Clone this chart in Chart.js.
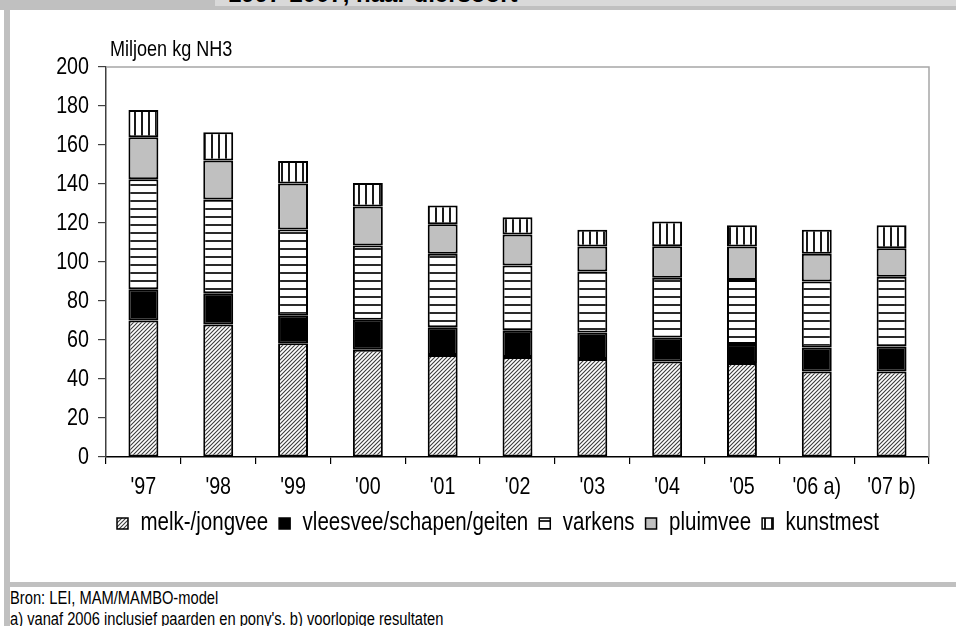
<!DOCTYPE html>
<html>
<head>
<meta charset="utf-8">
<script src="https://cdn.jsdelivr.net/npm/chart.js@4.4.1/dist/chart.umd.min.js"></script>
<style>
  html, body { margin: 0; padding: 0; background: #fff; }
  body { width: 956px; height: 626px; position: relative; overflow: hidden;
         font-family: 'Liberation Sans', Arial, sans-serif; }
  #topband { position: absolute; left: 0; top: 0; width: 956px; height: 10px; background: #c0c0c0; }
  #titleband { position: absolute; left: 215px; top: 0; width: 741px; height: 6px; background: #d9d9d9; overflow: hidden; }
  #titleband span { position: absolute; left: 13px; top: -18px; font: bold 24px/24px 'Liberation Sans', Arial, sans-serif;
                    color: #000; white-space: nowrap; }
  #leftbar { position: absolute; left: 4px; top: 0; width: 6px; height: 626px; background: #c0c0c0; }
  #bottomline { position: absolute; left: 10px; top: 582px; width: 946px; height: 5px; background: #c0c0c0; }
  #wrap { position: absolute; left: 10px; top: 10px; width: 946px; height: 572px; }
  /* condensed text: regular face squeezed horizontally */
  .note { position: absolute; left: 10px; font-size: 17.5px; line-height: 20px; color: #000; white-space: nowrap;
          transform: scaleX(0.84); transform-origin: 0 0; }
</style>
</head>
<body>
<div id="topband"></div>
<div id="titleband"><span>1997-2007, naar diersoort</span></div>
<div id="leftbar"></div>
<div id="wrap"><canvas id="chart" width="946" height="572"></canvas></div>
<div id="bottomline"></div>
<div class="note" style="top:588px">Bron: LEI, MAM/MAMBO-model</div>
<div class="note" style="top:609px">a) vanaf 2006 inclusief paarden en pony's. b) voorlopige resultaten</div>

<script>
// Ammonia emission per animal category, million kg NH3
const categories = ["'97", "'98", "'99", "'00", "'01", "'02", "'03", "'04", "'05", "'06 a)", "'07 b)"];
const melkJongvee = [70, 68, 58.3, 55, 52.3, 51.3, 50.2, 49, 48.2, 43.9, 43.9];
const vleesveeSchapenGeiten = [16, 16, 14.2, 15.4, 14.2, 13.5, 13.7, 12.3, 9.7, 12.3, 12.8];
const varkens = [56.5, 48, 44.2, 38.1, 37.7, 33.4, 31.2, 30.6, 32.9, 33.8, 35.8];
const pluimvee = [21.5, 20, 23.5, 20, 15.1, 15.9, 12.9, 16.2, 17.2, 14.2, 14.6];
const kunstmest = [14, 14.5, 11.6, 12, 9.7, 8.9, 8.6, 12.7, 10.8, 12.4, 11.7];
const seriesNames = ['melk-/jongvee', 'vleesvee/schapen/geiten', 'varkens', 'pluimvee', 'kunstmest'];
const yMin = 0, yMax = 200, yStep = 20;
const axisTitle = 'Miljoen kg NH3';

const FONT = "'Liberation Sans', Arial, sans-serif";
const SQUEEZE = 0.82;

const canvas = document.getElementById('chart');
const ctx = canvas.getContext('2d');

// narrow lettering: every canvas text run is drawn and measured horizontally squeezed
const baseFill = ctx.fillText;
const baseMeasure = ctx.measureText;
ctx.fillText = function (text, x, y) {
  this.save();
  this.translate(x, y);
  this.scale(SQUEEZE, 1);
  baseFill.call(this, text, 0, 0);
  this.restore();
};
ctx.measureText = function (text) {
  const m = baseMeasure.call(this, text);
  return {
    width: m.width * SQUEEZE,
    actualBoundingBoxAscent: m.actualBoundingBoxAscent,
    actualBoundingBoxDescent: m.actualBoundingBoxDescent,
    actualBoundingBoxLeft: m.actualBoundingBoxLeft * SQUEEZE,
    actualBoundingBoxRight: m.actualBoundingBoxRight * SQUEEZE
  };
};

// fill patterns for the stacked segments
function tile(w, h, draw) {
  const c = document.createElement('canvas');
  c.width = w; c.height = h;
  const g = c.getContext('2d');
  g.fillStyle = '#fff';
  g.fillRect(0, 0, w, h);
  draw(g);
  return ctx.createPattern(c, 'repeat');
}
const diagonal = tile(4, 4, g => {
  g.strokeStyle = '#3c3c3c';
  g.lineWidth = 1.1;
  g.beginPath();
  g.moveTo(-1, 5); g.lineTo(5, -1);
  g.moveTo(-1, 1); g.lineTo(1, -1);
  g.moveTo(3, 5); g.lineTo(5, 3);
  g.stroke();
});
const horizontal = tile(8, 8, g => { g.fillStyle = '#2a2a2a'; g.fillRect(0, 6, 8, 2); });
const vertical = tile(7, 8, g => { g.fillStyle = '#1a1a1a'; g.fillRect(5, 0, 2, 8); });

const fills = [diagonal, '#000000', horizontal, '#c0c0c0', vertical];
const values = [melkJongvee, vleesveeSchapenGeiten, varkens, pluimvee, kunstmest];

const datasets = seriesNames.map((name, i) => ({
  label: name,
  data: values[i],
  backgroundColor: fills[i],
  borderColor: '#000',
  borderWidth: 2,
  borderSkipped: false,
  categoryPercentage: 1,
  barPercentage: 0.4
}));

// plot frame (grey top/right edge) and the unit label above the y axis
const framePlugin = {
  id: 'frame',
  beforeDatasetsDraw(chart) {
    const { ctx, chartArea: a } = chart;
    ctx.save();
    ctx.strokeStyle = '#a6a6a6';
    ctx.lineWidth = 1.5;
    ctx.beginPath();
    ctx.moveTo(a.left, a.top);
    ctx.lineTo(a.right, a.top);
    ctx.lineTo(a.right, a.bottom);
    ctx.stroke();
    ctx.restore();
  },
  afterDraw(chart) {
    const { ctx, chartArea: a } = chart;
    ctx.save();
    ctx.fillStyle = '#000';
    ctx.font = '22px ' + FONT;
    ctx.textAlign = 'left';
    ctx.textBaseline = 'alphabetic';
    ctx.fillText(axisTitle, a.left + 4, a.top - 11);
    ctx.restore();
  }
};

new Chart(canvas, {
  type: 'bar',
  data: { labels: categories, datasets },
  plugins: [framePlugin],
  options: {
    responsive: false,
    animation: false,
    devicePixelRatio: 1,
    layout: { padding: { left: 0, top: 57, right: 27, bottom: 36 } },
    plugins: {
      tooltip: { enabled: false },
      legend: {
        position: 'bottom',
        fullSize: false,
        align: 'start',
        labels: {
          color: '#000',
          font: { family: FONT, size: 25 },
          boxWidth: 11,
          boxHeight: 11,
          padding: 11,
          generateLabels(chart) {
            return chart.data.datasets.map((d, i) => ({
              text: d.label,
              fillStyle: d.backgroundColor,
              strokeStyle: '#000',
              lineWidth: 1.5,
              hidden: false,
              datasetIndex: i
            }));
          }
        }
      }
    },
    scales: {
      x: {
        stacked: true,
        afterFit(s) { s.height = 43; },
        border: { color: '#000', width: 1.5 },
        grid: { offset: true, drawOnChartArea: false, drawTicks: true, tickLength: 7, color: '#000', lineWidth: 1.2 },
        ticks: { color: '#000', font: { family: FONT, size: 24 }, padding: 9, maxRotation: 0 }
      },
      y: {
        stacked: true,
        min: yMin,
        max: yMax,
        afterFit(s) { s.width = 96; },
        border: { color: '#404040', width: 1.5 },
        grid: { drawOnChartArea: false, drawTicks: true, tickLength: 8, color: '#404040', lineWidth: 1.2 },
        ticks: { stepSize: yStep, color: '#000', font: { family: FONT, size: 24 }, padding: 9 }
      }
    }
  }
});
</script>
</body>
</html>
